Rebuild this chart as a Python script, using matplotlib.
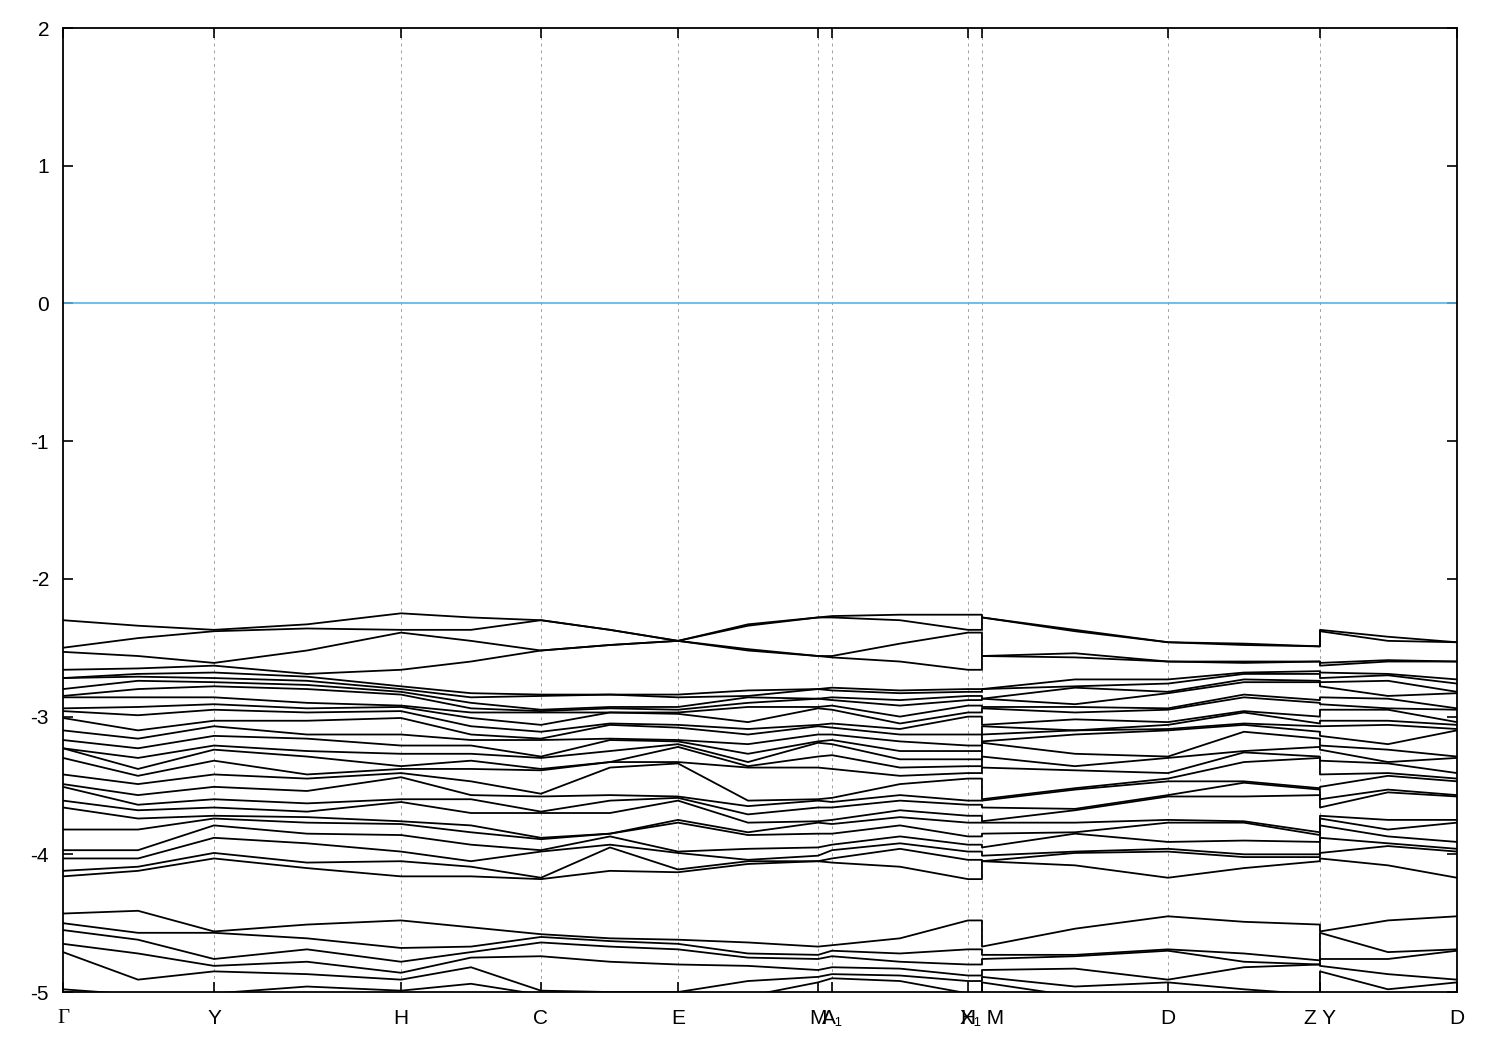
import numpy as np
import matplotlib
matplotlib.use("Agg")
import matplotlib.pyplot as plt

plt.rcParams["font.family"] = ["Liberation Sans", "DejaVu Sans"]
plt.rcParams["axes.unicode_minus"] = False

# k-path sample positions (arb. units); repeated values are the path breaks
k_samples = [0, 75, 151, 244, 338, 408, 478, 547, 615, 685, 755, 769,
             837, 905, 919, 919, 1012, 1105, 1181, 1257, 1257, 1325, 1394]

tick_pos = [0, 151, 338, 478, 615, 755, 769, 905, 919, 1105, 1257, 1394]
tick_labels = ["Γ", "Y", "H", "C", "E", "M", "A₁", "H", "X₁ M", "D", "Z Y", "D"]

# energies (eV) read at each sample column, split in three groups
E_top = [
    [-2.30, -2.50, -2.53, -2.66],  # G
    [-2.34, -2.43, -2.56, -2.65],
    [-2.37, -2.38, -2.61, -2.63],  # Y
    [-2.33, -2.36, -2.52, -2.69],
    [-2.25, -2.37, -2.39, -2.66],  # H
    [-2.28, -2.37, -2.45, -2.60],
    [-2.30, -2.30, -2.52, -2.52],  # C
    [-2.37, -2.37, -2.48, -2.48],
    [-2.45, -2.45, -2.45, -2.45],  # E
    [-2.33, -2.34, -2.51, -2.52],
    [-2.28, -2.28, -2.56, -2.56],  # M
    [-2.27, -2.28, -2.56, -2.57],  # A1
    [-2.26, -2.30, -2.47, -2.60],
    [-2.26, -2.37, -2.39, -2.66],  # H
    [-2.26, -2.37, -2.39, -2.66],  # X1
    [-2.28, -2.28, -2.56, -2.56],  # M
    [-2.37, -2.38, -2.54, -2.57],
    [-2.46, -2.46, -2.60, -2.60],  # D
    [-2.47, -2.48, -2.60, -2.61],
    [-2.49, -2.49, -2.60, -2.60],  # Z
    [-2.37, -2.38, -2.61, -2.63],  # Y
    [-2.42, -2.45, -2.59, -2.60],
    [-2.46, -2.46, -2.60, -2.60],  # D
]

E_mid = [
    [-2.72, -2.72, -2.80, -2.85, -2.86, -2.94, -2.96, -3.01, -3.10, -3.17, -3.23, -3.23,
     -3.30, -3.42, -3.49, -3.51, -3.61, -3.66, -3.82, -3.97, -4.03, -4.12, -4.16],
    [-2.69, -2.71, -2.74, -2.80, -2.86, -2.93, -2.99, -3.10, -3.16, -3.23, -3.30, -3.38,
     -3.43, -3.49, -3.57, -3.64, -3.68, -3.74, -3.82, -3.97, -4.03, -4.09, -4.12],
    [-2.68, -2.72, -2.75, -2.78, -2.86, -2.91, -2.95, -3.03, -3.07, -3.14, -3.21, -3.24,
     -3.32, -3.42, -3.51, -3.60, -3.66, -3.72, -3.74, -3.79, -3.88, -3.99, -4.03],
    [-2.71, -2.74, -2.77, -2.80, -2.90, -2.94, -2.97, -3.03, -3.13, -3.16, -3.25, -3.29,
     -3.42, -3.45, -3.54, -3.63, -3.69, -3.73, -3.77, -3.85, -3.92, -4.06, -4.10],
    [-2.78, -2.80, -2.82, -2.84, -2.92, -2.93, -2.96, -3.01, -3.13, -3.21, -3.27, -3.36,
     -3.38, -3.41, -3.44, -3.60, -3.62, -3.76, -3.78, -3.86, -3.98, -4.05, -4.16],
    [-2.83, -2.86, -2.90, -2.94, -2.97, -3.01, -3.07, -3.13, -3.17, -3.21, -3.27, -3.32,
     -3.38, -3.47, -3.57, -3.60, -3.70, -3.79, -3.84, -3.93, -4.05, -4.09, -4.16],
    [-2.84, -2.85, -2.95, -2.96, -2.97, -3.06, -3.11, -3.16, -3.17, -3.29, -3.30, -3.38,
     -3.39, -3.56, -3.58, -3.69, -3.70, -3.88, -3.89, -3.97, -3.98, -4.17, -4.18],
    [-2.84, -2.84, -2.93, -2.94, -2.97, -2.97, -3.05, -3.06, -3.16, -3.17, -3.25, -3.33,
     -3.33, -3.37, -3.57, -3.61, -3.70, -3.85, -3.85, -3.87, -3.93, -3.95, -4.12],
    [-2.84, -2.86, -2.93, -2.95, -2.97, -2.98, -3.06, -3.08, -3.17, -3.18, -3.20, -3.22,
     -3.33, -3.34, -3.58, -3.59, -3.61, -3.75, -3.77, -3.98, -3.99, -4.11, -4.13],
    [-2.81, -2.85, -2.86, -2.90, -2.93, -3.04, -3.09, -3.13, -3.20, -3.27, -3.33, -3.36,
     -3.37, -3.61, -3.65, -3.71, -3.77, -3.84, -3.86, -3.96, -4.04, -4.05, -4.07],
    [-2.80, -2.80, -2.87, -2.87, -2.93, -2.94, -3.06, -3.07, -3.13, -3.18, -3.19, -3.29,
     -3.37, -3.60, -3.61, -3.66, -3.76, -3.77, -3.85, -3.95, -4.01, -4.05, -4.05],
    [-2.79, -2.81, -2.86, -2.88, -2.92, -2.95, -3.05, -3.08, -3.13, -3.17, -3.20, -3.28,
     -3.38, -3.59, -3.62, -3.66, -3.75, -3.78, -3.85, -3.93, -3.97, -4.03, -4.06],
    [-2.81, -2.83, -2.88, -2.92, -3.00, -3.05, -3.09, -3.13, -3.18, -3.25, -3.31, -3.37,
     -3.43, -3.49, -3.57, -3.61, -3.68, -3.73, -3.79, -3.87, -3.92, -3.96, -4.09],
    [-2.80, -2.82, -2.85, -2.88, -2.92, -2.97, -3.00, -3.13, -3.21, -3.25, -3.31, -3.36,
     -3.41, -3.45, -3.61, -3.64, -3.72, -3.77, -3.87, -3.93, -3.98, -4.04, -4.18],
    [-2.80, -2.82, -2.85, -2.88, -2.92, -2.97, -3.00, -3.13, -3.21, -3.25, -3.31, -3.36,
     -3.41, -3.45, -3.61, -3.64, -3.72, -3.77, -3.87, -3.93, -3.98, -4.04, -4.18],
    [-2.80, -2.80, -2.87, -2.87, -2.93, -2.94, -3.06, -3.07, -3.13, -3.18, -3.19, -3.29,
     -3.37, -3.60, -3.61, -3.66, -3.76, -3.77, -3.85, -3.95, -4.01, -4.05, -4.05],
    [-2.73, -2.78, -2.79, -2.91, -2.93, -2.97, -3.02, -3.10, -3.10, -3.13, -3.27, -3.36,
     -3.39, -3.52, -3.53, -3.67, -3.68, -3.77, -3.84, -3.85, -3.98, -3.99, -4.08],
    [-2.73, -2.76, -2.82, -2.83, -2.94, -2.95, -3.04, -3.06, -3.09, -3.10, -3.29, -3.30,
     -3.41, -3.45, -3.47, -3.57, -3.58, -3.75, -3.77, -3.91, -3.96, -3.98, -4.17],
    [-2.68, -2.69, -2.73, -2.75, -2.84, -2.86, -2.96, -2.97, -3.05, -3.06, -3.11, -3.25,
     -3.26, -3.33, -3.47, -3.48, -3.58, -3.76, -3.77, -3.90, -4.00, -4.02, -4.10],
    [-2.67, -2.69, -2.74, -2.75, -2.88, -2.90, -3.00, -3.05, -3.07, -3.11, -3.16, -3.22,
     -3.29, -3.30, -3.52, -3.53, -3.57, -3.84, -3.86, -3.91, -4.00, -4.02, -4.05],
    [-2.68, -2.72, -2.75, -2.78, -2.86, -2.91, -2.95, -3.03, -3.07, -3.14, -3.21, -3.24,
     -3.32, -3.42, -3.51, -3.60, -3.66, -3.72, -3.74, -3.79, -3.88, -3.99, -4.03],
    [-2.69, -2.70, -2.74, -2.85, -2.87, -2.94, -2.95, -3.03, -3.06, -3.20, -3.24, -3.33,
     -3.34, -3.41, -3.43, -3.53, -3.55, -3.75, -3.82, -3.87, -3.92, -3.94, -4.08],
    [-2.73, -2.76, -2.82, -2.83, -2.94, -2.95, -3.04, -3.06, -3.09, -3.10, -3.29, -3.30,
     -3.41, -3.45, -3.47, -3.57, -3.58, -3.75, -3.77, -3.91, -3.96, -3.98, -4.17],
]

E_low = [
    [-4.43, -4.50, -4.55, -4.65, -4.71, -4.98],  # G
    [-4.41, -4.57, -4.62, -4.72, -4.91, -5.02],
    [-4.56, -4.57, -4.76, -4.81, -4.85, -5.01],  # Y
    [-4.51, -4.61, -4.69, -4.78, -4.87, -4.96],
    [-4.48, -4.68, -4.78, -4.86, -4.91, -4.99],  # H
    [-4.53, -4.67, -4.71, -4.75, -4.82, -4.94],
    [-4.58, -4.60, -4.64, -4.74, -4.99, -5.02],  # C
    [-4.61, -4.63, -4.67, -4.78, -5.00, -5.02],
    [-4.62, -4.65, -4.69, -4.80, -5.00, -5.02],  # E
    [-4.64, -4.72, -4.75, -4.81, -4.92, -5.03],
    [-4.67, -4.73, -4.76, -4.84, -4.89, -4.93],  # M
    [-4.66, -4.70, -4.74, -4.82, -4.87, -4.90],  # A1
    [-4.61, -4.72, -4.78, -4.83, -4.88, -4.92],
    [-4.48, -4.69, -4.80, -4.88, -4.92, -5.01],  # H
    [-4.48, -4.69, -4.80, -4.88, -4.92, -5.01],  # X1
    [-4.67, -4.73, -4.76, -4.84, -4.89, -4.93],  # M
    [-4.54, -4.73, -4.74, -4.83, -4.96, -5.03],
    [-4.45, -4.69, -4.70, -4.91, -4.93, -5.02],  # D
    [-4.49, -4.72, -4.78, -4.82, -4.98, -5.03],
    [-4.51, -4.77, -4.80, -4.80, -5.02, -5.05],  # Z
    [-4.56, -4.57, -4.76, -4.81, -4.85, -5.01],  # Y
    [-4.48, -4.71, -4.76, -4.87, -4.98, -5.03],
    [-4.45, -4.69, -4.70, -4.91, -4.93, -5.02],  # D
]

k = np.array(k_samples, dtype=float)
bands = np.sort(np.hstack([np.array(E_top), np.array(E_mid), np.array(E_low)]), axis=1)

fig = plt.figure(figsize=(15, 10.5), dpi=100)
ax = fig.add_axes([0.042, 0.0552, 0.9293, 0.9181])

# vertical dashed lines at the inner high-symmetry points
for x in tick_pos[1:-1]:
    ax.axvline(x, color="#a0a0a0", lw=0.7, ls=(0, (3, 4)), zorder=1)

for i in range(bands.shape[1]):
    ax.plot(k, bands[:, i], color="black", lw=1.3, zorder=3)

ax.axhline(0, color="#56b4e9", lw=1.2, zorder=2)

ax.set_xlim(k[0], k[-1])
ax.set_ylim(-5, 2)
ax.set_yticks(range(-5, 3))
ax.set_xticks(tick_pos)
ax.set_xticklabels(tick_labels)
ax.xaxis.get_ticklabels()[0].set_family(["Liberation Serif", "DejaVu Serif"])

ax.tick_params(axis="both", direction="in", length=7, width=1.2, labelsize=15,
               top=True, right=True)
ax.tick_params(axis="x", pad=12)
ax.tick_params(axis="y", pad=10)
for s in ax.spines.values():
    s.set_linewidth(1.3)

fig.savefig("out.png", dpi=100)
